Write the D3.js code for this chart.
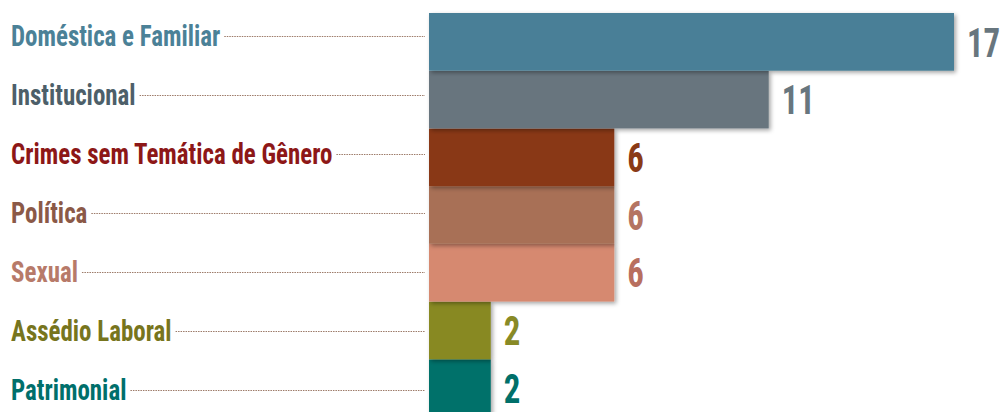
<!DOCTYPE html>
<html>
<head>
<meta charset="utf-8">
<script src="https://cdn.jsdelivr.net/npm/d3@7"></script>
<style>
  html, body { margin: 0; padding: 0; background: #ffffff; }
  svg { display: block; }
  .lbl, .val { font-family: "Roboto Condensed", Roboto, "Liberation Sans Narrow", sans-serif; font-weight: 700; }
</style>
</head>
<body>
<div id="chart"></div>
<script>
const categories = ["Doméstica e Familiar", "Institucional", "Crimes sem Temática de Gênero", "Política", "Sexual", "Assédio Laboral", "Patrimonial"];
const values = [17, 11, 6, 6, 6, 2, 2];
const barColors = ["#4a7f97", "#68757e", "#893915", "#a86f57", "#d6896f", "#888924", "#00716b"];
const labelColors = ["#4b8197", "#4d5f69", "#8d1717", "#8b5947", "#b77a69", "#77751d", "#006f6b"];
const valueColors = ["#68767e", "#68767e", "#8a3a16", "#b47462", "#b86f5f", "#888a26", "#00706a"];

const W = 1000, H = 412;
const LSX = 0.86, VSX = 0.8; // horizontal condensing for the narrow face
const svg = d3.select("#chart").append("svg").attr("width", W).attr("height", H);

const defs = svg.append("defs");
const f = defs.append("filter").attr("id", "shadow").attr("x", "-10%").attr("y", "-20%").attr("width", "130%").attr("height", "160%");
f.append("feDropShadow").attr("dx", 2).attr("dy", 2).attr("stdDeviation", 2).attr("flood-color", "#000").attr("flood-opacity", 0.35);

const x = d3.scaleLinear().domain([0, 17]).range([429, 954]);
const y = d3.scaleBand().domain(categories).range([13, 417]).padding(0);
const yl = d3.scalePoint().domain(categories).range([36, 390]);

const data = categories.map((c, i) => ({ c, v: values[i], i }));

// bars (draw bottom first so upper bars' shadows overlap)
svg.append("g").selectAll("rect").data(data.slice().reverse()).join("rect")
  .attr("x", x(0))
  .attr("y", d => y(d.c))
  .attr("width", d => x(d.v) - x(0))
  .attr("height", y.bandwidth())
  .attr("fill", d => barColors[d.i])
  .attr("filter", "url(#shadow)");

// values
svg.append("g").selectAll("text").data(data).join("text")
  .attr("class", "val")
  .attr("transform", d => `translate(${x(d.v) + 13},${y(d.c) + y.bandwidth() / 2}) scale(${VSX},1)`)
  .attr("dy", "0.36em")
  .attr("font-size", 41)
  .attr("fill", d => valueColors[d.i])
  .text(d => d.v);

// labels
const lg = svg.append("g");
const labels = lg.selectAll("text").data(data).join("text")
  .attr("class", "lbl")
  .attr("transform", d => `translate(11,${yl(d.c)}) scale(${LSX},1)`)
  .attr("dy", "0.36em")
  .attr("font-size", 29)
  .attr("fill", d => labelColors[d.i])
  .text(d => d.c);

labels.each(function (d) {
  const len = this.getComputedTextLength() * LSX;
  lg.append("line")
    .attr("x1", 11 + len + 4)
    .attr("x2", x(0) - 4)
    .attr("y1", yl(d.c) + 0.5)
    .attr("y2", yl(d.c) + 0.5)
    .attr("stroke", "#9c7a68")
    .attr("stroke-width", 1)
    .attr("stroke-dasharray", "1.5,1");
});
</script>
</body>
</html>
